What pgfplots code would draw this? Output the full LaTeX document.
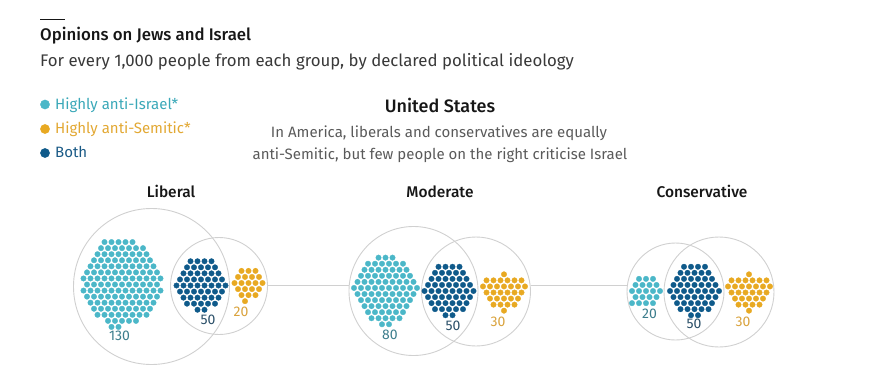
\documentclass[border=0pt]{standalone}
\usepackage{pgfplots}
\pgfplotsset{compat=1.18}
\usepackage{pgfplotstable}
\usepackage{fontspec}
\setmainfont{Fira Sans}
\newfontfamily\medfont{Fira Sans Medium}
\definecolor{lblue}{HTML}{4BB7C8}
\definecolor{dblue}{HTML}{0F5A8A}
\definecolor{gold}{HTML}{E8A922}
\definecolor{lbluetxt}{HTML}{3AA8B8}
\definecolor{goldtxt}{HTML}{E2A833}
\definecolor{dbluetxt}{HTML}{1A5A86}
\definecolor{numteal}{HTML}{3C7D8C}
\definecolor{numdark}{HTML}{2A4F68}
\definecolor{numgold}{HTML}{D9A23C}
\definecolor{circ}{HTML}{D0D0D0}
\definecolor{subgrey}{HTML}{5A5A5A}
\definecolor{titleblk}{HTML}{161616}

% cluster of 130 dots (hex grid units)
\pgfplotstableread[row sep=\\]{
x y\\
-2.5 -7\\ -1.5 -7\\ -0.5 -7\\ 0.5 -7\\ 1.5 -7\\
-3 -6\\ -2 -6\\ -1 -6\\ 0 -6\\ 1 -6\\ 2 -6\\ 3 -6\\
-3.5 -5\\ -2.5 -5\\ -1.5 -5\\ -0.5 -5\\ 0.5 -5\\ 1.5 -5\\ 2.5 -5\\ 3.5 -5\\
-4 -4\\ -3 -4\\ -2 -4\\ -1 -4\\ 0 -4\\ 1 -4\\ 2 -4\\ 3 -4\\ 4 -4\\
-4.5 -3\\ -3.5 -3\\ -2.5 -3\\ -1.5 -3\\ -0.5 -3\\ 0.5 -3\\ 1.5 -3\\ 2.5 -3\\ 3.5 -3\\ 4.5 -3\\
-5 -2\\ -4 -2\\ -3 -2\\ -2 -2\\ -1 -2\\ 0 -2\\ 1 -2\\ 2 -2\\ 3 -2\\ 4 -2\\ 5 -2\\
-5.5 -1\\ -4.5 -1\\ -3.5 -1\\ -2.5 -1\\ -1.5 -1\\ -0.5 -1\\ 0.5 -1\\ 1.5 -1\\ 2.5 -1\\ 3.5 -1\\ 4.5 -1\\ 5.5 -1\\
-5 0\\ -4 0\\ -3 0\\ -2 0\\ -1 0\\ 0 0\\ 1 0\\ 2 0\\ 3 0\\ 4 0\\ 5 0\\
-5.5 1\\ -4.5 1\\ -3.5 1\\ -2.5 1\\ -1.5 1\\ -0.5 1\\ 0.5 1\\ 1.5 1\\ 2.5 1\\ 3.5 1\\ 4.5 1\\ 5.5 1\\
-5 2\\ -4 2\\ -3 2\\ -2 2\\ -1 2\\ 0 2\\ 1 2\\ 2 2\\ 3 2\\ 4 2\\ 5 2\\
-4.5 3\\ -3.5 3\\ -2.5 3\\ -1.5 3\\ -0.5 3\\ 0.5 3\\ 1.5 3\\ 2.5 3\\ 3.5 3\\ 4.5 3\\
-4 4\\ -3 4\\ -2 4\\ -1 4\\ 0 4\\ 1 4\\ 2 4\\ 3 4\\ 4 4\\
-3.5 5\\ -2.5 5\\ -1.5 5\\ -0.5 5\\ 0.5 5\\ 1.5 5\\ 2.5 5\\ 3.5 5\\
-2 6\\ -1 6\\ 0 6\\ 1 6\\ 2 6\\
-1.5 7\\ -0.5 7\\
}\hexA

% cluster of 50 dots
\pgfplotstableread[row sep=\\]{
x y\\
-1.5 -4\\ -0.5 -4\\ 0.5 -4\\ 1.5 -4\\
-2 -3\\ -1 -3\\ 0 -3\\ 1 -3\\ 2 -3\\
-2.5 -2\\ -1.5 -2\\ -0.5 -2\\ 0.5 -2\\ 1.5 -2\\ 2.5 -2\\
-3 -1\\ -2 -1\\ -1 -1\\ 0 -1\\ 1 -1\\ 2 -1\\ 3 -1\\
-3.5 0\\ -2.5 0\\ -1.5 0\\ -0.5 0\\ 0.5 0\\ 1.5 0\\ 2.5 0\\ 3.5 0\\
-3 1\\ -2 1\\ -1 1\\ 0 1\\ 1 1\\ 2 1\\ 3 1\\
-2.5 2\\ -1.5 2\\ -0.5 2\\ 0.5 2\\ 1.5 2\\ 2.5 2\\
-2 3\\ -1 3\\ 0 3\\ 1 3\\ 2 3\\
-0.5 4\\ 0.5 4\\
}\hexB

% cluster of 20 dots (liberal)
\pgfplotstableread[row sep=\\]{
x y\\
-1 -2\\ 0 -2\\ 1 -2\\
-1.5 -1\\ -0.5 -1\\ 0.5 -1\\ 1.5 -1\\
-2 0\\ -1 0\\ 0 0\\ 1 0\\ 2 0\\
-1.5 1\\ -0.5 1\\ 0.5 1\\ 1.5 1\\
-1 2\\ 0 2\\ 1 2\\
-0.5 3\\
}\hexC

% cluster of 80 dots
\pgfplotstableread[row sep=\\]{
x y\\
-1 -6\\ 0 -6\\ 1 -6\\
-2.5 -5\\ -1.5 -5\\ -0.5 -5\\ 0.5 -5\\ 1.5 -5\\ 2.5 -5\\
-3 -4\\ -2 -4\\ -1 -4\\ 0 -4\\ 1 -4\\ 2 -4\\ 3 -4\\
-3.5 -3\\ -2.5 -3\\ -1.5 -3\\ -0.5 -3\\ 0.5 -3\\ 1.5 -3\\ 2.5 -3\\ 3.5 -3\\
-4 -2\\ -3 -2\\ -2 -2\\ -1 -2\\ 0 -2\\ 1 -2\\ 2 -2\\ 3 -2\\ 4 -2\\
-4.5 -1\\ -3.5 -1\\ -2.5 -1\\ -1.5 -1\\ -0.5 -1\\ 0.5 -1\\ 1.5 -1\\ 2.5 -1\\ 3.5 -1\\ 4.5 -1\\
-4 0\\ -3 0\\ -2 0\\ -1 0\\ 0 0\\ 1 0\\ 2 0\\ 3 0\\ 4 0\\
-3.5 1\\ -2.5 1\\ -1.5 1\\ -0.5 1\\ 0.5 1\\ 1.5 1\\ 2.5 1\\ 3.5 1\\
-3 2\\ -2 2\\ -1 2\\ 0 2\\ 1 2\\ 2 2\\ 3 2\\
-2.5 3\\ -1.5 3\\ -0.5 3\\ 0.5 3\\ 1.5 3\\ 2.5 3\\
-2 4\\ -1 4\\ 0 4\\ 1 4\\ 2 4\\
-0.5 5\\ 0.5 5\\
}\hexD

% cluster of 30 dots
\pgfplotstableread[row sep=\\]{
x y\\
0 -3\\
-2.5 -2\\ -1.5 -2\\ -0.5 -2\\ 0.5 -2\\ 1.5 -2\\ 2.5 -2\\
-3 -1\\ -2 -1\\ -1 -1\\ 0 -1\\ 1 -1\\ 2 -1\\ 3 -1\\
-2.5 0\\ -1.5 0\\ -0.5 0\\ 0.5 0\\ 1.5 0\\ 2.5 0\\
-2 1\\ -1 1\\ 0 1\\ 1 1\\ 2 1\\
-1.5 2\\ -0.5 2\\ 0.5 2\\ 1.5 2\\
0 3\\
}\hexF

% cluster of 20 dots (conservative)
\pgfplotstableread[row sep=\\]{
x y\\
-1 -2\\ 0 -2\\ 1 -2\\
-1.5 -1\\ -0.5 -1\\ 0.5 -1\\ 1.5 -1\\
-2 0\\ -1 0\\ 0 0\\ 1 0\\ 2 0\\
-1.5 1\\ -0.5 1\\ 0.5 1\\ 1.5 1\\
-2 2\\ -1 2\\ 0 2\\ 1 2\\
}\hexG

% Venn circles: centre and radius (pixels)
\pgfplotstableread[row sep=\\]{
x y r\\
151.5 286.5 78\\
219 286 48.5\\
413.5 291 64.5\\
476 291.5 54.5\\
675.5 291.5 48.5\\
719 292 55\\
}\circles

\begin{document}
\begin{tikzpicture}
\begin{axis}[
  scale only axis, width=871pt, height=370pt,
  xmin=0, xmax=871, ymin=0, ymax=370, y dir=reverse,
  hide axis, clip=false,
  dots/.style={only marks, mark=*, mark size=2.75pt, mark options={line width=0.3pt}},
]
\path (rel axis cs:0,0) rectangle (rel axis cs:1,1);

% top rule
\addplot[titleblk, line width=1pt] coordinates {(40,19) (65,19)};

% connecting lines
\addplot[circ, line width=0.9pt] coordinates {(267.5,285) (349,285)};
\addplot[circ, line width=0.9pt] coordinates {(530.5,285) (627,285)};

% circles
\addplot[scatter, only marks, mark=o, line width=0.9pt,
  scatter/use mapped color={draw=circ, fill=none},
  visualization depends on={\thisrow{r} \as \rad},
  scatter/@pre marker code/.append style={/tikz/mark size=\rad}]
  table[x=x, y=y] {\circles};

% Liberal
\addplot[dots, lblue] table[x expr=122+7*\thisrow{x}, y expr=284.5+6.06*\thisrow{y}] {\hexA};
\addplot[dots, dblue] table[x expr=201+7*\thisrow{x}, y expr=285.5+6.06*\thisrow{y}] {\hexB};
\addplot[dots, gold] table[x expr=248.5+7*\thisrow{x}, y expr=283+6.06*\thisrow{y}] {\hexC};
% Moderate
\addplot[dots, lblue] table[x expr=385.5+7*\thisrow{x}, y expr=294+6.06*\thisrow{y}] {\hexD};
\addplot[dots, dblue] table[x expr=449+7*\thisrow{x}, y expr=291+6.06*\thisrow{y}] {\hexB};
\addplot[dots, gold] table[x expr=504+7*\thisrow{x}, y expr=292.5+6.06*\thisrow{y}] {\hexF};
% Conservative
\addplot[dots, lblue] table[x expr=646+7*\thisrow{x}, y expr=291+6.06*\thisrow{y}] {\hexG};
\addplot[dots, dblue] table[x expr=694.5+7*\thisrow{x}, y expr=291+6.06*\thisrow{y}] {\hexB};
\addplot[dots, gold] table[x expr=749+7*\thisrow{x}, y expr=292.5+6.06*\thisrow{y}] {\hexF};

% legend dots
\addplot[only marks, mark=*, mark size=4.6pt, lblue] coordinates {(45,104.5)};
\addplot[only marks, mark=*, mark size=4.6pt, gold] coordinates {(45,129)};
\addplot[only marks, mark=*, mark size=4.6pt, dblue] coordinates {(45,153)};

% texts
\node[anchor=base west, inner sep=0, text=titleblk, font=\medfont\fontsize{16.8}{20}\selectfont] at (axis cs:40,40.7) {Opinions on Jews and Israel};
\node[anchor=base west, inner sep=0, text=titleblk!85, font=\fontsize{16.8}{20}\selectfont] at (axis cs:40,66.7) {For every 1,000 people from each group, by declared political ideology};

\node[anchor=base west, inner sep=0, text=lbluetxt, font=\fontsize{15}{18}\selectfont] at (axis cs:55,109) {Highly anti-Israel*};
\node[anchor=base west, inner sep=0, text=goldtxt, font=\fontsize{15}{18}\selectfont] at (axis cs:55,133.3) {Highly anti-Semitic*};
\node[anchor=base west, inner sep=0, text=dbluetxt, font=\fontsize{15}{18}\selectfont] at (axis cs:55,157.3) {Both};

\node[anchor=base, inner sep=0, text=titleblk, font=\medfont\fontsize{18}{20}\selectfont] at (axis cs:440,112.3) {United States};
\node[anchor=base, inner sep=0, text=subgrey, font=\fontsize{15}{18}\selectfont] at (axis cs:439,137.7) {In America, liberals and conservatives are equally};
\node[anchor=base, inner sep=0, text=subgrey, font=\fontsize{15}{18}\selectfont] at (axis cs:440,159) {anti-Semitic, but few people on the right criticise Israel};

\node[anchor=base, inner sep=0, text=titleblk, font=\medfont\fontsize{15.5}{18}\selectfont] at (axis cs:171,197.7) {Liberal};
\node[anchor=base, inner sep=0, text=titleblk, font=\medfont\fontsize{15.5}{18}\selectfont] at (axis cs:440,197.7) {Moderate};
\node[anchor=base, inner sep=0, text=titleblk, font=\medfont\fontsize{15.5}{18}\selectfont] at (axis cs:702,197.7) {Conservative};

\node[anchor=base, inner sep=0, text=numteal, font=\fontsize{14}{16}\selectfont] at (axis cs:119.5,340) {130};
\node[anchor=base, inner sep=0, text=numdark, font=\fontsize{14}{16}\selectfont] at (axis cs:208,324.3) {50};
\node[anchor=base, inner sep=0, text=numgold, font=\fontsize{14}{16}\selectfont] at (axis cs:241,316.7) {20};
\node[anchor=base, inner sep=0, text=numteal, font=\fontsize{14}{16}\selectfont] at (axis cs:390,339) {80};
\node[anchor=base, inner sep=0, text=numdark, font=\fontsize{14}{16}\selectfont] at (axis cs:453,330.7) {50};
\node[anchor=base, inner sep=0, text=numgold, font=\fontsize{14}{16}\selectfont] at (axis cs:498,326) {30};
\node[anchor=base, inner sep=0, text=numteal, font=\fontsize{14}{16}\selectfont] at (axis cs:649.5,318.7) {20};
\node[anchor=base, inner sep=0, text=numdark, font=\fontsize{14}{16}\selectfont] at (axis cs:694,328.7) {50};
\node[anchor=base, inner sep=0, text=numgold, font=\fontsize{14}{16}\selectfont] at (axis cs:743,326.7) {30};
\end{axis}
\end{tikzpicture}
\end{document}
